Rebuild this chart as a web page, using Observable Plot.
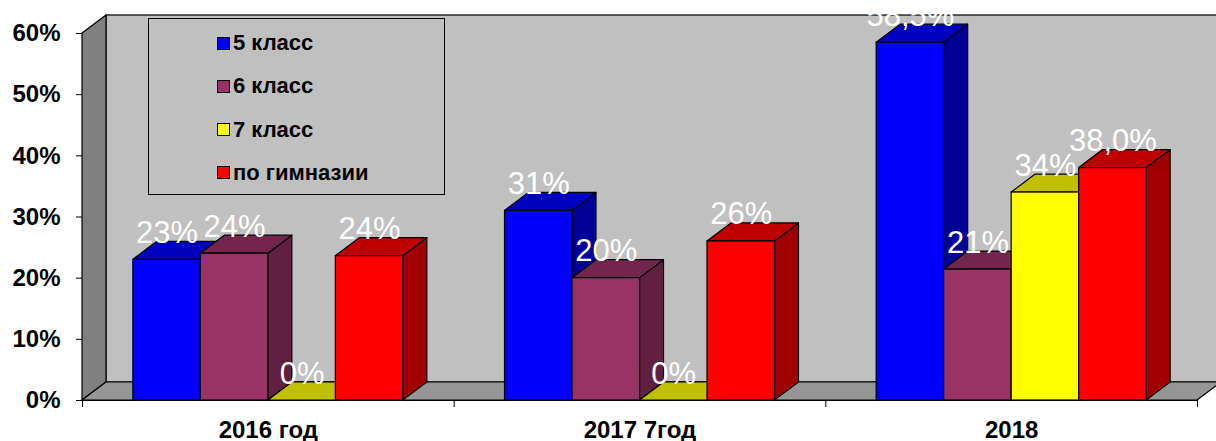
<!DOCTYPE html>
<html>
<head>
<meta charset="utf-8">
<script src="https://cdn.jsdelivr.net/npm/d3@7"></script>
<script src="https://cdn.jsdelivr.net/npm/@observablehq/plot@0.6"></script>
<style>
  html, body { margin: 0; padding: 0; background: #ffffff; }
  #wrap { position: relative; width: 1216px; height: 441px; overflow: hidden; font-family: "Liberation Sans", Arial, sans-serif; }
  #legend { position: absolute; left: 148px; top: 18px; width: 297px; height: 177px; box-sizing: border-box; border: 1px solid #000; background: #C0C0C0; }
  .row { position: absolute; left: 68px; height: 24px; display: flex; align-items: center; font-weight: bold; font-size: 22px; color: #000; white-space: nowrap; }
  .sw { width: 11px; height: 11px; border: 1.5px solid #000; margin-right: 3px; flex: none; }
</style>
</head>
<body>
<div id="wrap">
  <div id="chart"></div>
  <div id="legend"></div>
</div>
<script>
// ---- data ----
const groups = ["2016 год", "2017 7год", "2018"];
const series = ["5 класс", "6 класс", "7 класс", "по гимназии"];
const class5 = [23, 31, 58.5];
const class6 = [24, 20, 21.4];
const class7 = [0, 0, 34];
const gymnasium = [23.6, 26, 38];
const labels5 = ["23%", "31%", "58,5%"];
const labels6 = ["24%", "20%", "21%"];
const labels7 = ["0%", "0%", "34%"];
const labelsG = ["24%", "26%", "38,0%"];
const yTicks = [0, 10, 20, 30, 40, 50, 60];
const yMax = 60;

// ---- styles ----
const frontColors = ["#0000FF", "#993366", "#FFFF00", "#FF0000"];
const topColors = ["#0000C0", "#73264D", "#C0C000", "#C00000"];
const sideColors = ["#000099", "#612040", "#A0A000", "#A00000"];

const W = 1216, H = 441;
const mL = 82, mR = 19, mT = 33, mB = 41;
const N = groups.length;
const depthPxX = 24, depthPxY = 18;
const dX = depthPxX * N / (W - mL - mR);
const dY = depthPxY * yMax / (H - mT - mB);
const barF = 0.1816;
const gapF = (1 - series.length * barF) / 2;

const seriesValues = [class5, class6, class7, gymnasium];
const seriesLabels = [labels5, labels6, labels7, labelsG];

const bars = [];
groups.forEach((g, i) => {
  series.forEach((s, j) => {
    const x1 = i + gapF + j * barF;
    bars.push({id: i * 10 + j, i, j, v: seriesValues[j][i], label: seriesLabels[j][i], x1, x2: x1 + barF});
  });
});

const sides = bars.flatMap(b => [
  {id: b.id, x: b.x2, y1: 0, y2: b.v, fill: sideColors[b.j]},
  {id: b.id, x: b.x2 + dX, y1: dY, y2: b.v + dY, fill: sideColors[b.j]}
]);
const tops = bars.flatMap(b => [
  {id: b.id, y: b.v, x1: b.x1, x2: b.x2, fill: topColors[b.j]},
  {id: b.id, y: b.v + dY, x1: b.x1 + dX, x2: b.x2 + dX, fill: topColors[b.j]}
]);

const leftWall = [{x: 0, y1: 0, y2: yMax}, {x: dX, y1: dY, y2: yMax + dY}];
const floor = [{y: 0, x1: 0, x2: N}, {y: dY, x1: dX, x2: N + dX}];
const backWall = [{x1: dX, x2: N + dX + 0.2, y1: dY, y2: yMax + dY}];

const font = '"Liberation Sans", Arial, sans-serif';

const chart = Plot.plot({
  width: W, height: H,
  marginLeft: mL, marginRight: mR, marginTop: mT, marginBottom: mB,
  style: {fontFamily: font, fontSize: "24px", fontWeight: "bold", color: "#000", background: "transparent", overflow: "hidden"},
  color: {type: "identity"},
  x: {domain: [0, N], ticks: d3.range(N + 1), tickFormat: () => "", tickSize: 7, label: null, line: true},
  y: {domain: [0, yMax], ticks: yTicks, tickFormat: d => d + "%", tickSize: 6, tickPadding: 16, label: null, line: true},
  marks: [
    Plot.rect(backWall, {x1: "x1", x2: "x2", y1: "y1", y2: "y2", fill: "#C0C0C0", stroke: "#000", strokeWidth: 1.2}),
    Plot.areaY(leftWall, {x: "x", y1: "y1", y2: "y2", fill: "#808080", stroke: "#000", strokeWidth: 1.2}),
    Plot.areaX(floor, {y: "y", x1: "x1", x2: "x2", fill: "#969696", stroke: "#000", strokeWidth: 1.2}),
    Plot.areaY(sides, {x: "x", y1: "y1", y2: "y2", z: "id", fill: "fill", stroke: "#000", strokeWidth: 1.2}),
    Plot.areaX(tops, {y: "y", x1: "x1", x2: "x2", z: "id", fill: "fill", stroke: "#000", strokeWidth: 1.2}),
    Plot.rect(bars, {x1: "x1", x2: "x2", y1: () => 0, y2: "v", fill: d => frontColors[d.j], stroke: "#000", strokeWidth: 1.2}),
    Plot.text(bars, {x: d => (d.x1 + d.x2) / 2, y: d => d.v + dY, text: "label", fill: "#fff", fontSize: 31, fontWeight: "normal", lineAnchor: "bottom", dy: 1}),
    Plot.text(groups, {x: (d, i) => i + 0.5, y: () => 0, text: d => d, fill: "#000", fontSize: 24, fontWeight: "bold", lineAnchor: "bottom", dy: 37})
  ]
});
document.getElementById("chart").appendChild(chart);

// legend
const legend = document.getElementById("legend");
series.forEach((s, j) => {
  const row = document.createElement("div");
  row.className = "row";
  row.style.top = (12 + j * 43.3) + "px";
  const sw = document.createElement("span");
  sw.className = "sw";
  sw.style.background = frontColors[j];
  row.appendChild(sw);
  row.appendChild(document.createTextNode(s));
  legend.appendChild(row);
});
</script>
</body>
</html>
